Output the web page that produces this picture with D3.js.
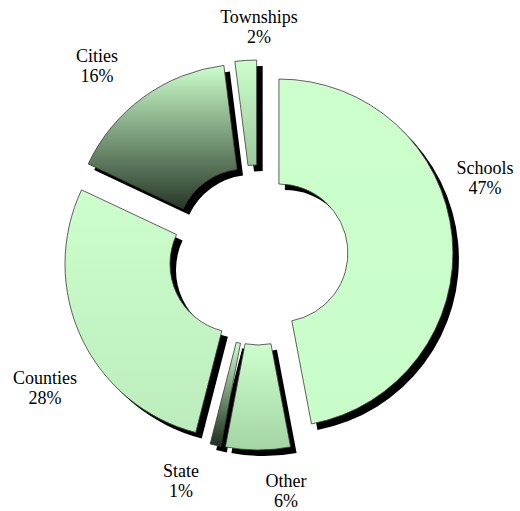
<!DOCTYPE html>
<html>
<head>
<meta charset="utf-8">
<script src="https://cdn.jsdelivr.net/npm/d3@7"></script>
<style>
  html, body { margin: 0; padding: 0; background: #ffffff; }
  svg { display: block; }
</style>
</head>
<body>
<svg id="chart" width="520" height="511"></svg>
<script>
// ---- data ----
const categories = ["Schools", "Other", "State", "Counties", "Cities", "Townships"];
const values = [47, 6, 1, 28, 16, 2];
const percentLabels = ["47%", "6%", "1%", "28%", "16%", "2%"];
// gradient colours (top -> bottom) per slice
const gradTop = ["#ccffcc", "#ccffcc", "#ccffcc", "#ccffcc", "#ccffcc", "#ccffcc"];
const gradBottom = ["#c8fcc8", "#a4d4a4", "#1e2e1e", "#bcecbc", "#283828", "#9cc89c"];

// ---- layout ----
const W = 520, H = 511;
const cx = 258, cy = 255;
const outerR = 174, innerR = 69;
const explode = 21;
const shadow = {dx: 6, dy: 6};
// label anchor offsets from the centre (layout only)
const labelPos = [
  [227, -77], [28, 236], [-77, 226], [-213, 133], [-161, -189], [1, -228]
];

const svg = d3.select("#chart");
svg.append("rect").attr("width", W).attr("height", H).attr("fill", "#fff");

const defs = svg.append("defs");
categories.forEach((c, i) => {
  const g = defs.append("linearGradient")
    .attr("id", "grad" + i)
    .attr("x1", 0).attr("y1", 0).attr("x2", 0).attr("y2", 1);
  g.append("stop").attr("offset", "0%").attr("stop-color", gradTop[i]);
  g.append("stop").attr("offset", "100%").attr("stop-color", gradBottom[i]);
});

const pie = d3.pie().sort(null).value(d => d).startAngle(0).endAngle(2 * Math.PI);
const arcs = pie(values);
const arc = d3.arc().innerRadius(innerR).outerRadius(outerR);

function offset(d) {
  const a = (d.startAngle + d.endAngle) / 2;
  return [explode * Math.sin(a), -explode * Math.cos(a)];
}

const root = svg.append("g").attr("transform", `translate(${cx},${cy})`);

// shadows
root.append("g").selectAll("path.shadow")
  .data(arcs).join("path")
  .attr("class", "shadow")
  .attr("transform", d => { const o = offset(d); return `translate(${o[0] + shadow.dx},${o[1] + shadow.dy})`; })
  .attr("d", arc)
  .attr("fill", "#000");

// slices
root.append("g").selectAll("path.slice")
  .data(arcs).join("path")
  .attr("class", "slice")
  .attr("transform", d => { const o = offset(d); return `translate(${o[0]},${o[1]})`; })
  .attr("d", arc)
  .attr("fill", (d, i) => `url(#grad${i})`)
  .attr("stroke", "#3a3a3a")
  .attr("stroke-width", 0.8)
  .attr("stroke-linejoin", "miter");

// labels
const lbl = root.append("g").selectAll("text")
  .data(arcs).join("text")
  .attr("text-anchor", "middle")
  .attr("font-family", "'Liberation Serif', 'Times New Roman', Times, serif")
  .attr("font-size", 18)
  .attr("fill", "#000")
  .attr("transform", (d, i) => `translate(${labelPos[i][0]},${labelPos[i][1]})`);
lbl.append("tspan").attr("x", 0).attr("y", -4).text((d, i) => categories[i]);
lbl.append("tspan").attr("x", 0).attr("y", 16).text((d, i) => percentLabels[i]);
</script>
</body>
</html>
